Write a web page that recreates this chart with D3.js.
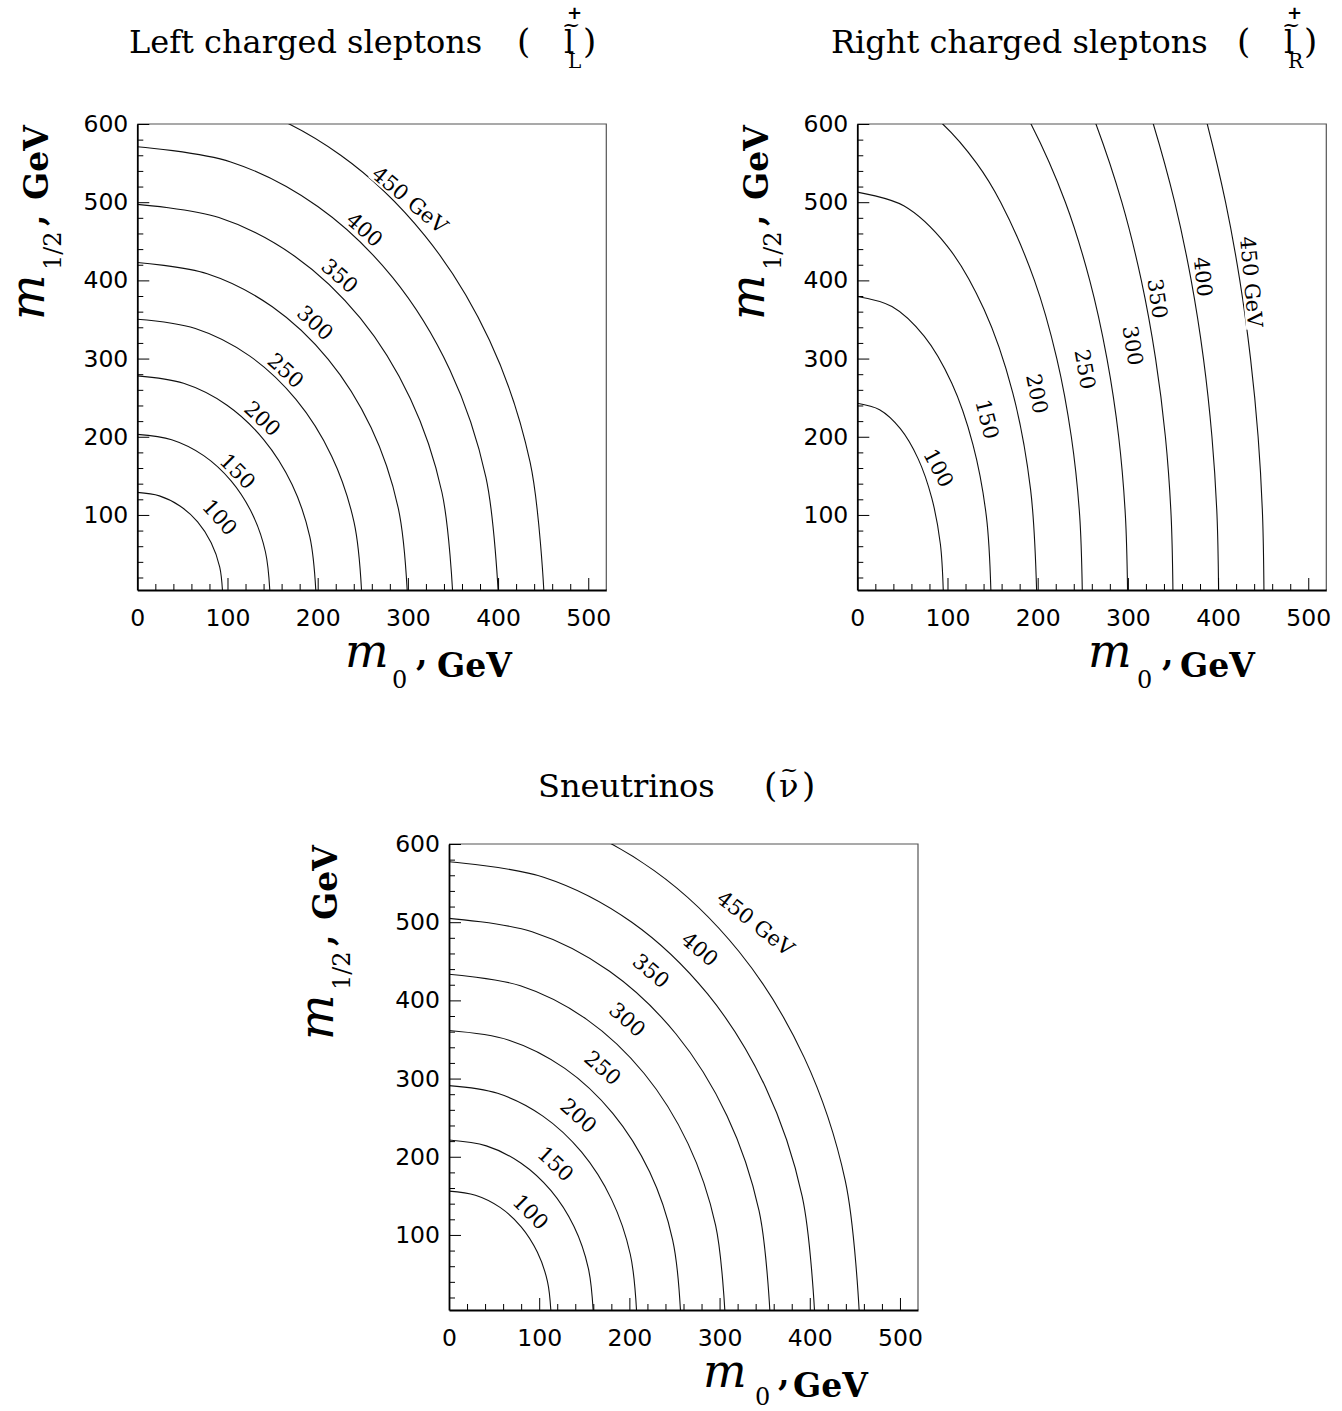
<!DOCTYPE html>
<html><head><meta charset="utf-8">
<script src="https://cdn.jsdelivr.net/npm/d3@7"></script>
<style>body{margin:0;background:#fff}</style>
</head><body>
<svg id="c" width="1342" height="1411"></svg>
<script>
// ---------- DATA ----------
const levels = [100,150,200,250,300,350,400,450];
const levelLabels = ["100","150","200","250","300","350","400","450 GeV"];
const xTicksMajor = [0,100,200,300,400,500];
const yTicksMajor = [100,200,300,400,500,600];
const xTicksMinor = [20,40,60,80,120,140,160,180,220,240,260,280,320,340,360,380,420,440,460,480];
const yTicksMinor = [20,40,60,80,120,140,160,180,220,240,260,280,320,340,360,380,420,440,460,480,520,540,560,580];

// contour points [m0, m1/2] per mass level, left charged sleptons
const leftCurves = [
 [[0,128.8],[24.5,124.4],[47.3,111.5],[66.9,91.1],[81.9,64.4],[91.4,33.3],[94.6,0]],
 [[0,203.1],[38.1,196.2],[73.6,175.9],[104.0,143.6],[127.4,101.6],[142.1,52.6],[147.1,0]],
 [[0,277.8],[51.3,268.3],[99.1,240.6],[140.1,196.4],[171.6,138.9],[191.3,71.9],[198.1,0]],
 [[0,350.3],[64.4,338.4],[124.4,303.4],[175.9,247.7],[215.5,175.2],[240.3,90.7],[248.8,0]],
 [[0,422.9],[77.5,408.5],[149.7,366.2],[211.7,299.0],[259.3,211.5],[289.2,109.5],[299.4,0]],
 [[0,497.2],[90.5,480.3],[174.9,430.6],[247.3,351.6],[302.8,248.6],[337.8,128.7],[349.7,0]],
 [[0,571.0],[103.6,551.5],[200.1,494.5],[283.0,403.8],[346.6,285.5],[386.6,147.8],[400.2,0]],
 [[0,646.8],[116.7,624.8],[225.5,560.1],[318.8,457.3],[390.5,323.4],[435.5,167.4],[450.9,0]]
];
// right charged sleptons
const rightCurves = [
 [[0,242.8],[24.7,234.5],[47.7,210.3],[67.5,171.7],[82.6,121.4],[92.1,62.8],[95.4,0]],
 [[0,379.4],[38.4,366.5],[74.1,328.6],[104.8,268.3],[128.3,189.7],[143.1,98.2],[148.2,0]],
 [[0,512.9],[51.5,495.4],[99.5,444.2],[140.6,362.7],[172.3,256.5],[192.1,132.7],[198.9,0]],
 [[249.5,0],[246.5,100],[237.3,200],[221.2,300],[196.4,400],[158.9,500],[132.2,550],[94.7,600],[66.5,625]],
 [[299.7,0],[297.2,100],[289.8,200],[276.8,300],[257.7,400],[230.7,500],[192.6,600],[167.2,650]],
 [[350,0],[347.9,100],[341.6,200],[330.7,300],[314.9,400],[293.3,500],[264.6,600],[246.8,650]],
 [[400.6,0],[398.8,100],[393.2,200],[383.8,300],[370.2,400],[351.9,500],[328.2,600],[313.9,650]],
 [[450.9,0],[449.3,100],[444.4,200],[436.0,300],[424.1,400],[408.3,500],[388.0,600],[376.0,650]]
];
// sneutrinos
const sneuCurves = [
 [[0,156.1],[29.3,150.8],[56.6,135.2],[80.0,110.4],[97.9,78.1],[109.2,40.4],[113.1,0]],
 [[0,221.4],[41.4,213.9],[80,191.7],[113.1,156.6],[138.6,110.7],[154.5,57.3],[160,0]],
 [[0,291],[53.9,281.1],[104.1,252.0],[147.1,205.8],[180.2,145.5],[201.0,75.3],[208.1,0]],
 [[0,361.4],[66.5,349.1],[128.4,313.0],[181.6,255.5],[222.4,180.7],[248.0,93.5],[256.8,0]],
 [[0,433.5],[79.2,418.7],[153,375.4],[216.4,306.5],[265,216.8],[295.6,112.2],[306,0]],
 [[0,504.9],[92.1,487.7],[178,437.2],[251.7,357.0],[308.2,252.5],[343.8,130.7],[355.9,0]],
 [[0,577.3],[104.9,557.6],[202.7,500.0],[286.7,408.2],[351.1,288.7],[391.6,149.4],[405.4,0]],
 [[0,653.6],[117.7,631.3],[227.5,566.0],[321.7,462.2],[393.9,326.8],[439.4,169.2],[454.9,0]]
];

// ---------- LAYOUT ----------
const SERIF = "'DejaVu Serif', serif";
const SANS = "'DejaVu Sans', sans-serif";
const W = 469, H = 466;
const panels = [
 { curves: leftCurves, x0:137.3, y0:124,
   labels: [[91.7,97.4,48],[111.5,156.1,45],[139.0,223.4,43],[164.8,284.9,42],[197.5,346.0,42],[224.7,406.0,41],[252.2,465.1,41],[302.3,503.2,40]],
   title: {text:"Left charged sleptons", x:129, y:53, open:517, sym:"l", symX:564, sup:"+", sub:"L", subX:568, close:583},
   xlab: {m:[345,667], s:[392,688], c:[416,665], g:[437,677]},
   ylab: {m:[44,320], s:[61,270], c:[44,226], g:[48,200]} },
 { curves: rightCurves, x0:857.3, y0:124,
   labels: [[90.4,160.3,62],[144.3,222.4,76],[199.6,255.1,79],[252.8,286.3,80],[305.8,316.6,81],[333.1,376.6,82],[383.6,404.6,84],[437.2,398.2,85]],
   title: {text:"Right charged sleptons", x:831, y:53, open:1237, sym:"l", symX:1284, sup:"+", sub:"R", subX:1288, close:1304},
   xlab: {m:[1088,667], s:[1137,688], c:[1162,665], g:[1180,677]},
   ylab: {m:[764,320], s:[781,270], c:[764,226], g:[768,200]} },
 { curves: sneuCurves, x0:449, y0:844,
   labels: [[90.7,129.7,45],[118.4,191.2,43],[143.9,252.8,42],[170.7,314.0,41],[197.9,375.5,41],[224.3,438.0,40],[278.3,465.8,40],[340.1,498.8,38]],
   title: {text:"Sneutrinos", x:538, y:797, open:764, sym:"\u03bd", symX:779, sup:null, sub:null, close:802},
   xlab: {m:[703,1387], s:[755,1405], c:[778,1385], g:[793,1397]},
   ylab: {m:[333,1040], s:[350,990], c:[333,946], g:[337,920]} }
];

const svg = d3.select("#c");
svg.append("rect").attr("width",1342).attr("height",1411).attr("fill","#fff");

function txt(x, y, s, font, rot) {
  return svg.append("text").attr("x", 0).attr("y", 0)
    .attr("transform", `translate(${x},${y})` + (rot ? ` rotate(${rot})` : ""))
    .style("font", font).attr("fill", "#000").text(s);
}

panels.forEach((p, pi) => {
  const x = d3.scaleLinear().domain([0,520]).range([0,W]);
  const y = d3.scaleLinear().domain([4,600]).range([H,0]);
  const g = svg.append("g").attr("transform", `translate(${p.x0},${p.y0})`);

  g.append("clipPath").attr("id", "clip"+pi).append("rect").attr("width", W).attr("height", H);

  // top & right frame
  g.append("path").attr("d", `M0,0H${W}V${H}`).attr("fill","none").attr("stroke","#555").attr("stroke-width",1.2);

  // contours
  const line = d3.line().x(d => x(d[0])).y(d => y(d[1])).curve(d3.curveCatmullRom.alpha(0.5));
  const cg = g.append("g").attr("clip-path", `url(#clip${pi})`);
  p.curves.forEach(c => {
    cg.append("path").attr("d", line(c)).attr("fill","none").attr("stroke","#111").attr("stroke-width",1.1);
  });

  // contour labels
  p.labels.forEach((l, i) => {
    const lg = g.append("g").attr("transform", `translate(${x(l[0])},${y(l[1])}) rotate(${l[2]})`);
    const t = lg.append("text").attr("text-anchor","middle").attr("dy","0.36em")
      .style("font", `21px ${SERIF}`).attr("fill","#000").text(levelLabels[i]);
    const bb = t.node().getBBox();
    lg.insert("rect","text").attr("x", bb.x - 1).attr("y", bb.y + 3)
      .attr("width", bb.width + 2).attr("height", bb.height - 6).attr("fill","#fff");
  });

  // axes: minor ticks
  g.append("g").attr("transform", `translate(0,${H})`)
    .call(d3.axisBottom(x).tickValues(xTicksMinor).tickSizeInner(-6).tickSizeOuter(0).tickFormat(""))
    .call(a => a.select(".domain").remove());
  g.append("g")
    .call(d3.axisLeft(y).tickValues(yTicksMinor).tickSizeInner(-6).tickSizeOuter(0).tickFormat(""))
    .call(a => a.select(".domain").remove());
  // major ticks + labels
  const xa = g.append("g").attr("transform", `translate(0,${H})`)
    .call(d3.axisBottom(x).tickValues(xTicksMajor).tickSizeInner(-12).tickSizeOuter(0).tickPadding(19).tickFormat(d3.format("d")));
  const ya = g.append("g")
    .call(d3.axisLeft(y).tickValues(yTicksMajor).tickSizeInner(-12).tickSizeOuter(0).tickPadding(9).tickFormat(d3.format("d")));
  [xa, ya].forEach(a => {
    a.selectAll("text").style("font", `23.5px ${SANS}`).attr("fill","#000");
    a.select(".domain").attr("stroke","#000").attr("stroke-width",1.8);
  });
  g.selectAll(".tick line").attr("stroke","#000").attr("stroke-width",1);

  // titles
  const t = p.title;
  txt(t.x, t.y, t.text, `32px ${SERIF}`);
  // particle symbol as one text element built from positioned tspans
  const st = svg.append("text").attr("fill","#000").style("font", `32px ${SERIF}`);
  st.append("tspan").attr("x", t.open).attr("y", t.y).style("font-size","34px").text("(");
  st.append("tspan").attr("x", t.symX).attr("y", t.y).text(t.sym);
  if (t.sup) {
    st.append("tspan").attr("x", t.symX - 2).attr("y", t.y - 21).style("font-size","22px").text("~");
    st.append("tspan").attr("x", t.symX + 3).attr("y", t.y - 34)
      .style("font", `bold 18px ${SANS}`).text(t.sup);
    st.append("tspan").attr("x", t.subX).attr("y", t.y + 15).style("font-size","20px").text(t.sub);
  } else {
    st.append("tspan").attr("x", t.symX + 1).attr("y", t.y - 20).style("font-size","22px").text("~");
  }
  st.append("tspan").attr("x", t.close).attr("y", t.y).style("font-size","34px").text(")");

  // x axis label
  const xl = p.xlab;
  txt(xl.m[0], xl.m[1], "m", `italic 46px ${SERIF}`);
  txt(xl.s[0], xl.s[1], "0", `24px ${SERIF}`);
  txt(xl.c[0], xl.c[1], ",", `bold 33px ${SERIF}`);
  txt(xl.g[0], xl.g[1], "GeV", `bold 33px ${SERIF}`);
  // y axis label (rotated)
  const yl = p.ylab;
  txt(yl.m[0], yl.m[1], "m", `italic 48px ${SERIF}`, -90);
  txt(yl.s[0], yl.s[1], "1/2", `24px ${SERIF}`, -90);
  txt(yl.c[0], yl.c[1], ",", `bold 33px ${SERIF}`, -90);
  txt(yl.g[0], yl.g[1], "GeV", `bold 33px ${SERIF}`, -90);
});
</script>
</body></html>
